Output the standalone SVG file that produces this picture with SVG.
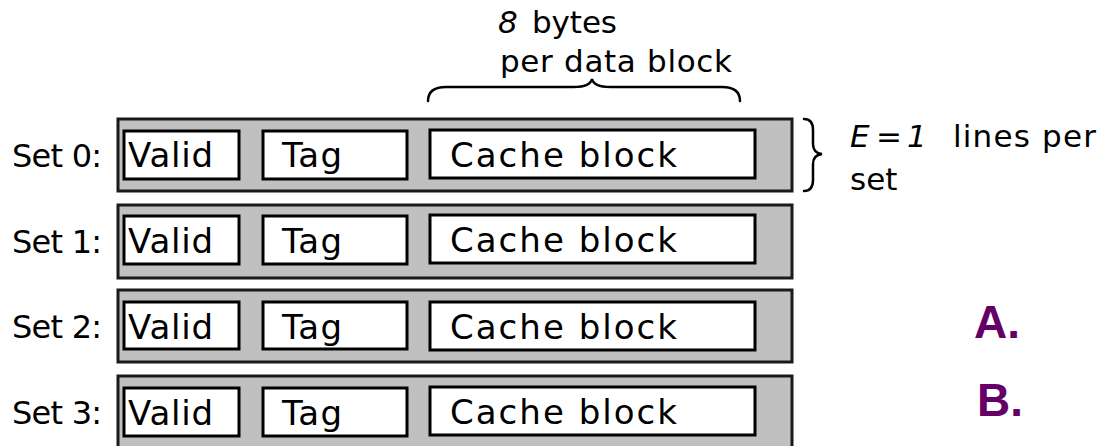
<svg xmlns="http://www.w3.org/2000/svg" width="1097" height="446" viewBox="0 0 1097 446">
<style>
.row{fill:#c0c0c0;stroke:#1a1a1a;stroke-width:3}
.cell{fill:#fff;stroke:#000;stroke-width:3}
text{font-family:"DejaVu Sans","Liberation Sans",sans-serif;fill:#000}
.t{font-size:34px}
.s{font-size:32px}
.a{font-size:31px}
.it{font-style:italic}
.brace{fill:none;stroke:#000;stroke-width:2.5;stroke-linecap:round}
.ans{font-family:"Liberation Sans",Arial,sans-serif;font-weight:bold;font-size:46px;fill:#660066}
</style>
<rect width="1097" height="446" fill="#fff"/>
<g id="set0">
<text class="s" x="12" y="167" textLength="90">Set 0:</text>
<rect class="row" x="118" y="119" width="674" height="72"/>
<rect class="cell" x="124" y="131" width="115" height="48"/>
<rect class="cell" x="263" y="131" width="144" height="48"/>
<rect class="cell" x="430" y="130" width="325" height="48"/>
<text class="t" x="128" y="167" textLength="85">Valid</text>
<text class="t" x="282" y="167" textLength="60">Tag</text>
<text class="t" x="450" y="167" textLength="227">Cache block</text>
</g>
<g id="set1">
<text class="s" x="12" y="253" textLength="90">Set 1:</text>
<rect class="row" x="118" y="205" width="674" height="73"/>
<rect class="cell" x="124" y="216" width="115" height="48"/>
<rect class="cell" x="263" y="216" width="144" height="48"/>
<rect class="cell" x="430" y="215" width="325" height="48"/>
<text class="t" x="128" y="253" textLength="85">Valid</text>
<text class="t" x="282" y="253" textLength="60">Tag</text>
<text class="t" x="450" y="252" textLength="227">Cache block</text>
</g>
<g id="set2">
<text class="s" x="12" y="338" textLength="90">Set 2:</text>
<rect class="row" x="118" y="290" width="674" height="72"/>
<rect class="cell" x="124" y="302" width="115" height="47"/>
<rect class="cell" x="263" y="302" width="144" height="47"/>
<rect class="cell" x="430" y="302" width="325" height="48"/>
<text class="t" x="128" y="339" textLength="85">Valid</text>
<text class="t" x="282" y="339" textLength="60">Tag</text>
<text class="t" x="450" y="339" textLength="227">Cache block</text>
</g>
<g id="set3">
<text class="s" x="12" y="424" textLength="90">Set 3:</text>
<rect class="row" x="118" y="376" width="674" height="76"/>
<rect class="cell" x="124" y="388" width="115" height="48"/>
<rect class="cell" x="263" y="388" width="144" height="48"/>
<rect class="cell" x="430" y="387" width="325" height="48"/>
<text class="t" x="128" y="425" textLength="85">Valid</text>
<text class="t" x="282" y="425" textLength="60">Tag</text>
<text class="t" x="450" y="424" textLength="227">Cache block</text>
</g>
<g id="connectors">
<path class="brace" d="M428,101 Q428,87 446,87 L574,87 Q590,87 592,79 Q594,87 610,87 L722,87 Q740,87 740,101"/>
<path class="brace" d="M804,119 Q813,119 813,130 L813,144 Q813,153 822,154 Q813,155 813,164 L813,180 Q813,191 804,191"/>
</g>
<g id="block-size-label">
<text class="a" y="33"><tspan class="it" x="498">8</tspan><tspan x="532" textLength="85">bytes</tspan></text>
<text class="a" x="500" y="72" textLength="232">per data block</text>
</g>
<g id="lines-label">
<text class="a" y="147"><tspan class="it" x="850">E</tspan><tspan class="it" x="876">=</tspan><tspan class="it" x="907">1</tspan><tspan x="953" textLength="143">lines per</tspan></text>
<text class="a" x="850" y="190">set</text>
</g>
<g id="answers">
<text class="ans" x="974" y="338">A.</text>
<text class="ans" x="977" y="416">B.</text>
</g>
</svg>
